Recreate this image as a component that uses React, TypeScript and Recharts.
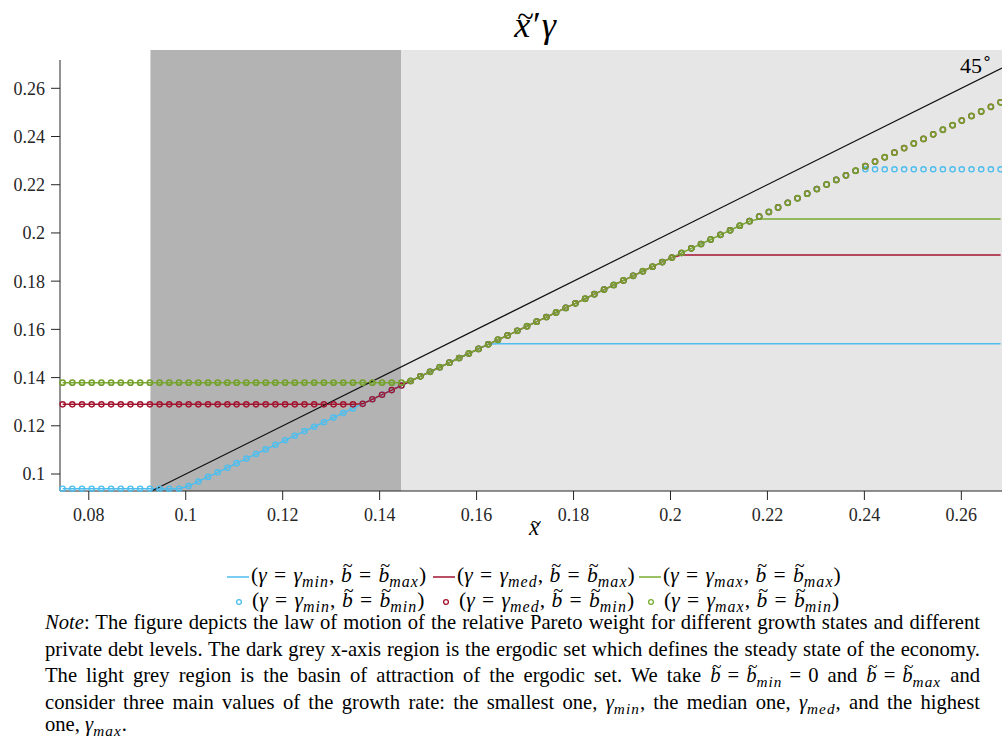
import React from 'react';
import { LineChart, Line, XAxis, YAxis, ReferenceArea, ReferenceLine } from 'recharts';

// Grid of relative Pareto weights x̃ on which the law of motion is evaluated
const xGrid = [
  0.0746, 0.0766, 0.0786, 0.0806, 0.0826, 0.0846, 0.0866, 0.0886, 0.0906, 0.0926,
  0.0946, 0.0966, 0.0986, 0.1006, 0.1026, 0.1046, 0.1066, 0.1086, 0.1105, 0.1125,
  0.1145, 0.1165, 0.1185, 0.1205, 0.1225, 0.1245, 0.1265, 0.1285, 0.1305, 0.1325,
  0.1345, 0.1365, 0.1385, 0.1405, 0.1425, 0.1445, 0.1464, 0.1484, 0.1504, 0.1524,
  0.1544, 0.1564, 0.1584, 0.1604, 0.1624, 0.1644, 0.1664, 0.1684, 0.1704, 0.1724,
  0.1744, 0.1764, 0.1784, 0.1804, 0.1824, 0.1843, 0.1863, 0.1883, 0.1903, 0.1923,
  0.1943, 0.1963, 0.1983, 0.2003, 0.2023, 0.2043, 0.2063, 0.2083, 0.2103, 0.2123,
  0.2143, 0.2163, 0.2183, 0.2203, 0.2222, 0.2242, 0.2262, 0.2282, 0.2302, 0.2322,
  0.2342, 0.2362, 0.2382, 0.2402, 0.2422, 0.2442, 0.2462, 0.2482, 0.2502, 0.2522,
  0.2542, 0.2562, 0.2582, 0.2601, 0.2621, 0.2641, 0.2661, 0.2681,
];

// γ = γmin, b̃ = b̃max (solid)
const gMinBMax = [
  0.0939, 0.0939, 0.0939, 0.0939, 0.0939, 0.0939, 0.0939, 0.0939, 0.0939, 0.0939,
  0.0939, 0.0939, 0.0939, 0.0950, 0.0969, 0.0988, 0.1007, 0.1026, 0.1045, 0.1064,
  0.1083, 0.1102, 0.1121, 0.1140, 0.1159, 0.1178, 0.1196, 0.1215, 0.1234, 0.1253,
  0.1272, 0.1291, 0.1310, 0.1329, 0.1348, 0.1367, 0.1386, 0.1405, 0.1424, 0.1443,
  0.1462, 0.1481, 0.1500, 0.1519, 0.1538, 0.1540, 0.1540, 0.1540, 0.1540, 0.1540,
  0.1540, 0.1540, 0.1540, 0.1540, 0.1540, 0.1540, 0.1540, 0.1540, 0.1540, 0.1540,
  0.1540, 0.1540, 0.1540, 0.1540, 0.1540, 0.1540, 0.1540, 0.1540, 0.1540, 0.1540,
  0.1540, 0.1540, 0.1540, 0.1540, 0.1540, 0.1540, 0.1540, 0.1540, 0.1540, 0.1540,
  0.1540, 0.1540, 0.1540, 0.1540, 0.1540, 0.1540, 0.1540, 0.1540, 0.1540, 0.1540,
  0.1540, 0.1540, 0.1540, 0.1540, 0.1540, 0.1540, 0.1540, 0.1540,
];

// γ = γmin, b̃ = b̃min (markers)
const gMinBMin = [
  0.0939, 0.0939, 0.0939, 0.0939, 0.0939, 0.0939, 0.0939, 0.0939, 0.0939, 0.0939,
  0.0939, 0.0939, 0.0939, 0.0950, 0.0969, 0.0988, 0.1007, 0.1026, 0.1045, 0.1064,
  0.1083, 0.1102, 0.1121, 0.1140, 0.1159, 0.1178, 0.1196, 0.1215, 0.1234, 0.1253,
  0.1272, 0.1291, 0.1310, 0.1329, 0.1348, 0.1367, 0.1386, 0.1405, 0.1424, 0.1443,
  0.1462, 0.1481, 0.1500, 0.1519, 0.1538, 0.1557, 0.1575, 0.1594, 0.1613, 0.1632,
  0.1651, 0.1670, 0.1689, 0.1708, 0.1727, 0.1746, 0.1765, 0.1784, 0.1803, 0.1822,
  0.1841, 0.1860, 0.1879, 0.1898, 0.1917, 0.1936, 0.1954, 0.1973, 0.1992, 0.2011,
  0.2030, 0.2049, 0.2068, 0.2087, 0.2106, 0.2125, 0.2144, 0.2163, 0.2182, 0.2201,
  0.2220, 0.2239, 0.2258, 0.2264, 0.2264, 0.2264, 0.2264, 0.2264, 0.2264, 0.2264,
  0.2264, 0.2264, 0.2264, 0.2264, 0.2264, 0.2264, 0.2264, 0.2264,
];

// γ = γmed, b̃ = b̃max (solid)
const gMedBMax = [
  0.1289, 0.1289, 0.1289, 0.1289, 0.1289, 0.1289, 0.1289, 0.1289, 0.1289, 0.1289,
  0.1289, 0.1289, 0.1289, 0.1289, 0.1289, 0.1289, 0.1289, 0.1289, 0.1289, 0.1289,
  0.1289, 0.1289, 0.1289, 0.1289, 0.1289, 0.1289, 0.1289, 0.1289, 0.1289, 0.1289,
  0.1289, 0.1291, 0.1310, 0.1329, 0.1348, 0.1367, 0.1386, 0.1405, 0.1424, 0.1443,
  0.1462, 0.1481, 0.1500, 0.1519, 0.1538, 0.1557, 0.1575, 0.1594, 0.1613, 0.1632,
  0.1651, 0.1670, 0.1689, 0.1708, 0.1727, 0.1746, 0.1765, 0.1784, 0.1803, 0.1822,
  0.1841, 0.1860, 0.1879, 0.1898, 0.1908, 0.1908, 0.1908, 0.1908, 0.1908, 0.1908,
  0.1908, 0.1908, 0.1908, 0.1908, 0.1908, 0.1908, 0.1908, 0.1908, 0.1908, 0.1908,
  0.1908, 0.1908, 0.1908, 0.1908, 0.1908, 0.1908, 0.1908, 0.1908, 0.1908, 0.1908,
  0.1908, 0.1908, 0.1908, 0.1908, 0.1908, 0.1908, 0.1908, 0.1908,
];

// γ = γmed, b̃ = b̃min (markers)
const gMedBMin = [
  0.1289, 0.1289, 0.1289, 0.1289, 0.1289, 0.1289, 0.1289, 0.1289, 0.1289, 0.1289,
  0.1289, 0.1289, 0.1289, 0.1289, 0.1289, 0.1289, 0.1289, 0.1289, 0.1289, 0.1289,
  0.1289, 0.1289, 0.1289, 0.1289, 0.1289, 0.1289, 0.1289, 0.1289, 0.1289, 0.1289,
  0.1289, 0.1291, 0.1310, 0.1329, 0.1348, 0.1367, 0.1386, 0.1405, 0.1424, 0.1443,
  0.1462, 0.1481, 0.1500, 0.1519, 0.1538, 0.1557, 0.1575, 0.1594, 0.1613, 0.1632,
  0.1651, 0.1670, 0.1689, 0.1708, 0.1727, 0.1746, 0.1765, 0.1784, 0.1803, 0.1822,
  0.1841, 0.1860, 0.1879, 0.1898, 0.1917, 0.1936, 0.1954, 0.1973, 0.1992, 0.2011,
  0.2030, 0.2049, 0.2068, 0.2087, 0.2106, 0.2125, 0.2144, 0.2163, 0.2182, 0.2201,
  0.2220, 0.2239, 0.2258, 0.2277, 0.2296, 0.2314, 0.2333, 0.2352, 0.2371, 0.2390,
  0.2409, 0.2428, 0.2447, 0.2466, 0.2485, 0.2504, 0.2523, 0.2542,
];

// γ = γmax, b̃ = b̃max (solid)
const gMaxBMax = [
  0.1379, 0.1379, 0.1379, 0.1379, 0.1379, 0.1379, 0.1379, 0.1379, 0.1379, 0.1379,
  0.1379, 0.1379, 0.1379, 0.1379, 0.1379, 0.1379, 0.1379, 0.1379, 0.1379, 0.1379,
  0.1379, 0.1379, 0.1379, 0.1379, 0.1379, 0.1379, 0.1379, 0.1379, 0.1379, 0.1379,
  0.1379, 0.1379, 0.1379, 0.1379, 0.1379, 0.1379, 0.1386, 0.1405, 0.1424, 0.1443,
  0.1462, 0.1481, 0.1500, 0.1519, 0.1538, 0.1557, 0.1575, 0.1594, 0.1613, 0.1632,
  0.1651, 0.1670, 0.1689, 0.1708, 0.1727, 0.1746, 0.1765, 0.1784, 0.1803, 0.1822,
  0.1841, 0.1860, 0.1879, 0.1898, 0.1917, 0.1936, 0.1954, 0.1973, 0.1992, 0.2011,
  0.2030, 0.2049, 0.2058, 0.2058, 0.2058, 0.2058, 0.2058, 0.2058, 0.2058, 0.2058,
  0.2058, 0.2058, 0.2058, 0.2058, 0.2058, 0.2058, 0.2058, 0.2058, 0.2058, 0.2058,
  0.2058, 0.2058, 0.2058, 0.2058, 0.2058, 0.2058, 0.2058, 0.2058,
];

// γ = γmax, b̃ = b̃min (markers)
const gMaxBMin = [
  0.1379, 0.1379, 0.1379, 0.1379, 0.1379, 0.1379, 0.1379, 0.1379, 0.1379, 0.1379,
  0.1379, 0.1379, 0.1379, 0.1379, 0.1379, 0.1379, 0.1379, 0.1379, 0.1379, 0.1379,
  0.1379, 0.1379, 0.1379, 0.1379, 0.1379, 0.1379, 0.1379, 0.1379, 0.1379, 0.1379,
  0.1379, 0.1379, 0.1379, 0.1379, 0.1379, 0.1379, 0.1386, 0.1405, 0.1424, 0.1443,
  0.1462, 0.1481, 0.1500, 0.1519, 0.1538, 0.1557, 0.1575, 0.1594, 0.1613, 0.1632,
  0.1651, 0.1670, 0.1689, 0.1708, 0.1727, 0.1746, 0.1765, 0.1784, 0.1803, 0.1822,
  0.1841, 0.1860, 0.1879, 0.1898, 0.1917, 0.1936, 0.1954, 0.1973, 0.1992, 0.2011,
  0.2030, 0.2049, 0.2068, 0.2087, 0.2106, 0.2125, 0.2144, 0.2163, 0.2182, 0.2201,
  0.2220, 0.2239, 0.2258, 0.2277, 0.2296, 0.2314, 0.2333, 0.2352, 0.2371, 0.2390,
  0.2409, 0.2428, 0.2447, 0.2466, 0.2485, 0.2504, 0.2523, 0.2542,
];

// Axis ranges and ticks
const xDomain = [0.07406, 0.26839];
const yDomain = [0.09295, 0.27174];
const xTicks = [0.08, 0.1, 0.12, 0.14, 0.16, 0.18, 0.2, 0.22, 0.24, 0.26];
const yTicks = [0.1, 0.12, 0.14, 0.16, 0.18, 0.2, 0.22, 0.24, 0.26];

// Ergodic set and its basin of attraction along x̃
const ergodicSet = [0.09272, 0.14447];
const basin = [0.14447, 0.26839];
// top edge of the shaded bands
const bandTop = 0.27589;

// 45-degree reference line end points
const identityLine = [
  { x: 0.09295, y: 0.09295 },
  { x: 0.26839, y: 0.26839 },
];

const CYAN = '#4DBEEE';
const RED = '#A2142F';
const GREEN = '#77AC30';
const GREEN_MARK = '#759F2D';
const AXIS = '#262626';
const SERIF = 'Liberation Serif';

const rows = xGrid.map((x, i) => ({
  x,
  gMinBMax: gMinBMax[i],
  gMinBMin: gMinBMin[i],
  gMedBMax: gMedBMax[i],
  gMedBMin: gMedBMin[i],
  gMaxBMax: gMaxBMax[i],
  gMaxBMin: gMaxBMin[i],
}));

const tickStyle = { fill: AXIS, fontSize: 18, fontFamily: SERIF };

const Tilde = ({ ch, lift = '-0.5em' }: { ch: string; lift?: string }) => (
  <span style={{ position: 'relative', display: 'inline-block' }}>
    <i>{ch}</i>
    <span
      style={{
        position: 'absolute',
        left: '0.1em',
        top: lift,
        fontStyle: 'normal',
        fontSize: '0.85em',
      }}
    >
      ~
    </span>
  </span>
);

const Sub = ({ children }: { children: React.ReactNode }) => (
  <span style={{ fontSize: '0.74em', fontStyle: 'italic', position: 'relative', top: '0.3em', letterSpacing: '0.07em' }}>
    {children}
  </span>
);

const Eq = ({ gap = '0.3em' }: { gap?: string }) => <span style={{ margin: `0 ${gap}` }}>=</span>;

const EntryText = ({ g, b }: { g: string; b: string }) => (
  <span>
    (<i>γ</i>
    <Eq gap="0.34em" />
    <i>γ</i>
    <Sub>{g}</Sub>,<span style={{ marginLeft: '0.3em' }} />
    <Tilde ch="b" />
    <Eq gap="0.34em" />
    <Tilde ch="b" />
    <Sub>{b}</Sub>)
  </span>
);

const legendSolid = [
  { color: CYAN, g: 'min', left: 227 },
  { color: RED, g: 'med', left: 433 },
  { color: GREEN, g: 'max', left: 639 },
];
const legendMarker = [
  { color: CYAN, g: 'min', left: 233 },
  { color: RED, g: 'med', left: 440 },
  { color: GREEN, g: 'max', left: 645 },
];

const noteLine: React.CSSProperties = {
  position: 'absolute',
  left: 45,
  width: 935,
  height: 26,
  lineHeight: '26px',
  fontSize: 20.6,
  textAlign: 'justify',
  textAlignLast: 'justify',
  whiteSpace: 'nowrap',
};

export default function App() {
  return (
    <div
      style={{
        position: 'absolute',
        left: 0,
        top: 0,
        width: 1002,
        height: 738,
        background: '#ffffff',
        overflow: 'hidden',
        fontFamily: SERIF,
        color: '#000',
      }}
    >
      <LineChart
        width={1002}
        height={738}
        data={rows}
        margin={{ top: 60, right: 0, bottom: 207, left: 0 }}
        style={{ position: 'absolute', left: 0, top: 0 }}
      >
        <ReferenceArea
          x1={ergodicSet[0]}
          x2={ergodicSet[1]}
          y1={yDomain[0]}
          y2={bandTop}
          fill="#b3b3b3"
          fillOpacity={1}
          stroke="none"
          ifOverflow="visible"
        />
        <ReferenceArea
          x1={basin[0]}
          x2={basin[1]}
          y1={yDomain[0]}
          y2={bandTop}
          fill="#e6e6e6"
          fillOpacity={1}
          stroke="none"
          ifOverflow="visible"
        />
        <XAxis
          dataKey="x"
          type="number"
          domain={xDomain}
          allowDataOverflow
          ticks={xTicks}
          tickSize={9}
          tickMargin={8}
          height={40}
          interval={0}
          tick={tickStyle}
          axisLine={{ stroke: AXIS }}
          tickLine={{ stroke: AXIS }}
        />
        <YAxis
          type="number"
          domain={yDomain}
          allowDataOverflow
          ticks={yTicks}
          tickSize={9}
          tickMargin={6}
          width={60}
          interval={0}
          tick={tickStyle}
          axisLine={{ stroke: AXIS }}
          tickLine={{ stroke: AXIS }}
        />
        <Line dataKey="gMinBMax" type="linear" stroke={CYAN} strokeWidth={1.5} dot={false} activeDot={false} isAnimationActive={false} />
        <Line
          dataKey="gMinBMin"
          type="linear"
          stroke="none"
          strokeWidth={0}
          dot={{ r: 2.6, stroke: CYAN, strokeWidth: 1.4, fill: 'none', clipDot: false }}
          activeDot={false}
          isAnimationActive={false}
        />
        <Line dataKey="gMedBMax" type="linear" stroke={RED} strokeWidth={1.5} dot={false} activeDot={false} isAnimationActive={false} />
        <Line
          dataKey="gMedBMin"
          type="linear"
          stroke="none"
          strokeWidth={0}
          dot={{ r: 2.6, stroke: RED, strokeWidth: 1.4, fill: 'none', clipDot: false }}
          activeDot={false}
          isAnimationActive={false}
        />
        <Line dataKey="gMaxBMax" type="linear" stroke={GREEN} strokeWidth={1.5} dot={false} activeDot={false} isAnimationActive={false} />
        <Line
          dataKey="gMaxBMin"
          type="linear"
          stroke="none"
          strokeWidth={0}
          dot={{ r: 2.6, stroke: GREEN_MARK, strokeWidth: 1.6, fill: 'none', clipDot: false }}
          activeDot={false}
          isAnimationActive={false}
        />
        <ReferenceLine
          segment={identityLine}
          stroke="#111"
          strokeWidth={1.2}
          ifOverflow="visible"
        />
      </LineChart>

      {/* title */}
      <div style={{ position: 'absolute', left: 435, width: 200, top: 5, textAlign: 'center', fontSize: 36, lineHeight: '40px' }}>
        <Tilde ch="x" lift="-0.26em" />
        <span style={{ marginLeft: '0.08em', marginRight: '0.02em' }}>′</span>
        <i>γ</i>
      </div>

      {/* x-axis label */}
      <div style={{ position: 'absolute', left: 484, width: 100, top: 515, textAlign: 'center', fontSize: 23, lineHeight: '26px' }}>
        <Tilde ch="x" lift="-0.28em" />
      </div>

      {/* 45-degree annotation */}
      <div style={{ position: 'absolute', left: 960, top: 54, fontSize: 22, lineHeight: '24px' }}>
        45<span style={{ fontSize: '0.72em', position: 'relative', top: '-0.55em' }}>∘</span>
      </div>

      {/* legend */}
      {legendSolid.map((e) => (
        <div key={'s' + e.g} style={{ position: 'absolute', left: e.left, top: 563, fontSize: 21.5, lineHeight: '24px', whiteSpace: 'nowrap', display: 'flex', alignItems: 'center' }}>
          <svg width={22} height={24} style={{ display: 'block' }}>
            <line x1={0} x2={22} y1={13} y2={13} stroke={e.color} strokeWidth={1.5} />
          </svg>
          <span style={{ marginLeft: 2 }}>
            <EntryText g={e.g} b="max" />
          </span>
        </div>
      ))}
      {legendMarker.map((e) => (
        <div key={'m' + e.g} style={{ position: 'absolute', left: e.left, top: 588, fontSize: 21.5, lineHeight: '24px', whiteSpace: 'nowrap', display: 'flex', alignItems: 'center' }}>
          <svg width={12} height={24} style={{ display: 'block' }}>
            <circle cx={6} cy={13} r={2.4} stroke={e.color} strokeWidth={1.3} fill="none" />
          </svg>
          <span style={{ marginLeft: 7 }}>
            <EntryText g={e.g} b="min" />
          </span>
        </div>
      ))}

      {/* note */}
      <div style={{ ...noteLine, top: 609 }}>
        <i>Note</i>: The figure depicts the law of motion of the relative Pareto weight for different growth states and different
      </div>
      <div style={{ ...noteLine, top: 636 }}>
        private debt levels. The dark grey x-axis region is the ergodic set which defines the steady state of the economy.
      </div>
      <div style={{ ...noteLine, top: 662 }}>
        The light grey region is the basin of attraction of the ergodic set. We take <Tilde ch="b" />
        <Eq gap="0.34em" />
        <Tilde ch="b" />
        <Sub>min</Sub>
        <Eq gap="0.34em" />0 and <Tilde ch="b" />
        <Eq gap="0.34em" />
        <Tilde ch="b" />
        <Sub>max</Sub> and
      </div>
      <div style={{ ...noteLine, top: 689 }}>
        consider three main values of the growth rate: the smallest one, <i>γ</i>
        <Sub>min</Sub>, the median one, <i>γ</i>
        <Sub>med</Sub>, and the highest
      </div>
      <div style={{ ...noteLine, top: 712, height: 24, lineHeight: '24px', textAlignLast: 'left' }}>
        one, <i>γ</i>
        <Sub>max</Sub>.
      </div>
    </div>
  );
}
